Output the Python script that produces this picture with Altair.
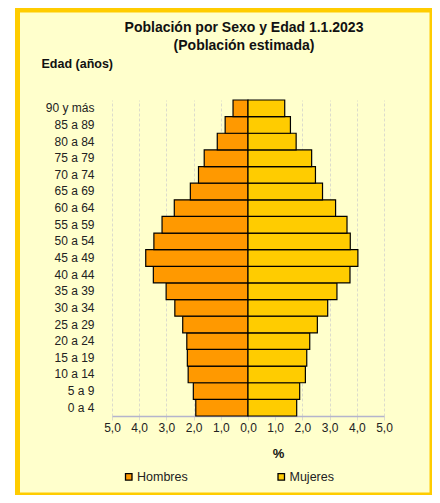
import altair as alt
import pandas as pd

AGES = ["0 a 4", "5 a 9", "10 a 14", "15 a 19", "20 a 24", "25 a 29", "30 a 34",
        "35 a 39", "40 a 44", "45 a 49", "50 a 54", "55 a 59", "60 a 64", "65 a 69",
        "70 a 74", "75 a 79", "80 a 84", "85 a 89", "90 y más"]
HOMBRES = [1.92, 2.01, 2.20, 2.23, 2.25, 2.40, 2.69, 3.01, 3.48, 3.76, 3.46, 3.16,
           2.71, 2.12, 1.82, 1.61, 1.13, 0.84, 0.55]
MUJERES = [1.79, 1.90, 2.11, 2.16, 2.27, 2.55, 2.93, 3.27, 3.75, 4.04, 3.76, 3.64,
           3.22, 2.74, 2.48, 2.34, 1.77, 1.56, 1.35]
SEXES = ["Hombres", "Mujeres"]
COLORS = ["#FF9900", "#FFCC00"]
TITLE_LINES = ["Población por Sexo y Edad 1.1.2023", "(Población estimada)"]
X_TICKS = [-5, -4, -3, -2, -1, 0, 1, 2, 3, 4, 5]

FONT = "Liberation Sans"

rows = []
for a, h, m in zip(AGES, HOMBRES, MUJERES):
    rows.append({"edad": a, "sexo": "Hombres", "v": -h})
    rows.append({"edad": a, "sexo": "Mujeres", "v": m})
df = pd.DataFrame(rows)

one = pd.DataFrame({"k": [0]})

# white strip left of the frame (page background)
strip = alt.Chart(one).mark_rect(fill="#FFFFFF").encode(
    x=alt.value(-110), x2=alt.value(-97),
    y=alt.value(-100), y2=alt.value(410)
)

frame = alt.Chart(one).mark_rect(
    fill=None, fillOpacity=0, stroke="#FFCC00", strokeWidth=5
).encode(
    x=alt.value(-94.5), x2=alt.value(320),
    y=alt.value(-90), y2=alt.value(395)
)

bars = alt.Chart(df).mark_bar(stroke="#000000", strokeWidth=1.2).encode(
    x=alt.X("v:Q",
            scale=alt.Scale(domain=[-5, 5], nice=False, zero=False),
            axis=alt.Axis(
                values=X_TICKS,
                labelExpr="replace(format(abs(datum.value), '.1f'), '.', ',')",
                labelFlush=False, labelOverlap=False,
                title="%",
                titleX=166, titleY=41.7, titleBaseline="alphabetic",
                titleAlign="center",
                titleFont=FONT, titleFontSize=13, titleFontWeight="bold",
                titleColor="#111111",
                grid=True, gridColor="#DCDCCC", gridDash=[3, 2], gridWidth=1,
                domainColor="#B4B4CC", domainWidth=1.5,
                tickColor="#DCDCCC", tickSize=4, labelPadding=2,
                labelFont=FONT, labelFontSize=12, labelColor="#222222",
            )),
    y=alt.Y("edad:N", sort=AGES[::-1],
            scale=alt.Scale(paddingInner=0, paddingOuter=0),
            axis=alt.Axis(
                title="Edad (años)", titleAngle=0, titleAlign="left",
                titleX=-71, titleY=-32.5, titleBaseline="alphabetic",
                titleFont=FONT, titleFontSize=12.5, titleFontWeight="bold",
                titleColor="#111111",
                domain=False, ticks=False, grid=False, labelPadding=18,
                labelFont=FONT, labelFontSize=12, labelColor="#222222",
            )),
    color=alt.Color("sexo:N",
                    scale=alt.Scale(domain=SEXES, range=COLORS),
                    legend=alt.Legend(
                        title=None, orient="none", legendX=10.5, legendY=370.5,
                        direction="horizontal", columnPadding=86.5,
                        symbolType="square", symbolSize=42,
                        symbolStrokeColor="#000000", symbolStrokeWidth=1.3,
                        labelOffset=2, padding=0,
                        labelFont=FONT, labelFontSize=12.5, labelColor="#222222",
                    )),
)

title = alt.Chart(one).mark_text(
    text=TITLE_LINES, font=FONT, fontSize=14, fontWeight="bold",
    color="#111111", align="center", baseline="middle", lineHeight=18
).encode(x=alt.value(132), y=alt.value(-72))

chart = alt.layer(strip, frame, bars, title).properties(
    width=272, height=316,
    padding={"left": 104, "top": 92, "right": 48, "bottom": 79},
    autosize=alt.AutoSizeParams(type="none"),
    background="#FFFFCC",
).configure_view(stroke=None)

chart.save("out.html", embed_options={"renderer": "svg", "actions": False})
